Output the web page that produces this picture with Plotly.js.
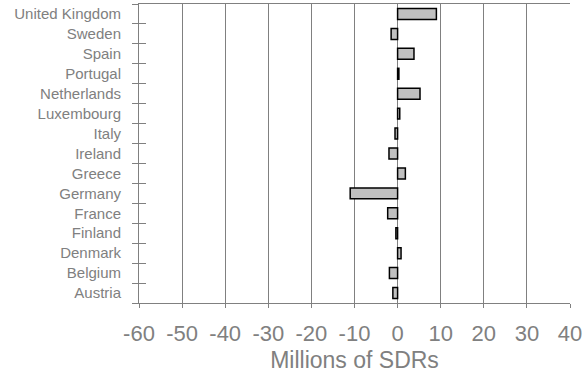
<!DOCTYPE html>
<html>
<head>
<meta charset="utf-8">
<script src="https://cdn.plot.ly/plotly-3.0.1.min.js"></script>
<style>html,body{margin:0;padding:0;background:#fff;}#chart{width:588px;height:376px;}</style>
</head>
<body>
<div id="chart"></div>
<script>
const countries = ["Austria","Belgium","Denmark","Finland","France","Germany","Greece","Ireland","Italy","Luxembourg","Netherlands","Portugal","Spain","Sweden","United Kingdom"];
const values = [-1.1, -1.9, 0.8, -0.4, -2.3, -11.0, 1.8, -2.0, -0.6, 0.5, 5.2, 0.3, 3.8, -1.5, 9.0];
const xTicks = [-60,-50,-40,-30,-20,-10,0,10,20,30,40];

const gray = "#808080";
const data = [{
  type: "bar",
  orientation: "h",
  y: countries,
  x: values,
  marker: {color: "#c0c0c0", line: {color: "#000", width: 1.5}},
  hoverinfo: "x+y"
}, {
  // carrier for the inner half of the cross tick marks (draws nothing)
  type: "scatter",
  mode: "none",
  y: countries,
  x: values,
  yaxis: "y2",
  hoverinfo: "skip",
  showlegend: false
}];

const layout = {
  width: 588, height: 376,
  margin: {l: 139, r: 18, t: 4, b: 73},
  paper_bgcolor: "#fff", plot_bgcolor: "#fff",
  showlegend: false,
  bargap: 0.45,
  font: {family: "Liberation Sans, Arial, sans-serif", color: gray},
  xaxis: {
    range: [-60, 40],
    tickvals: xTicks,
    ticktext: xTicks.map(String),
    showgrid: true, gridcolor: gray, gridwidth: 1,
    zeroline: false,
    showline: true, linecolor: gray, linewidth: 1, mirror: true,
    ticks: "outside", ticklen: 4, tickcolor: gray,
    tickfont: {size: 22, color: gray},
    ticklabelstandoff: 7,
    title: {text: "Millions of SDRs", font: {size: 23, color: gray}, standoff: 6}
  },
  yaxis: {
    type: "category",
    categoryorder: "array", categoryarray: countries,
    range: [-0.5, countries.length - 0.5],
    tickson: "boundaries",
    ticks: "outside", ticklen: 6, tickcolor: gray,
    showgrid: false, zeroline: false,
    showline: true, linecolor: gray, linewidth: 1,
    tickfont: {size: 15, color: gray},
    ticklabelstandoff: 14
  },
  yaxis2: {
    type: "category",
    categoryorder: "array", categoryarray: countries,
    range: [-0.5, countries.length - 0.5],
    overlaying: "y", side: "left", anchor: "x",
    tickson: "boundaries",
    ticks: "inside", ticklen: 7, tickcolor: gray,
    showticklabels: false, showgrid: false, zeroline: false, showline: false
  }
};

Plotly.newPlot("chart", data, layout, {displayModeBar: false, staticPlot: true});
</script>
</body>
</html>
